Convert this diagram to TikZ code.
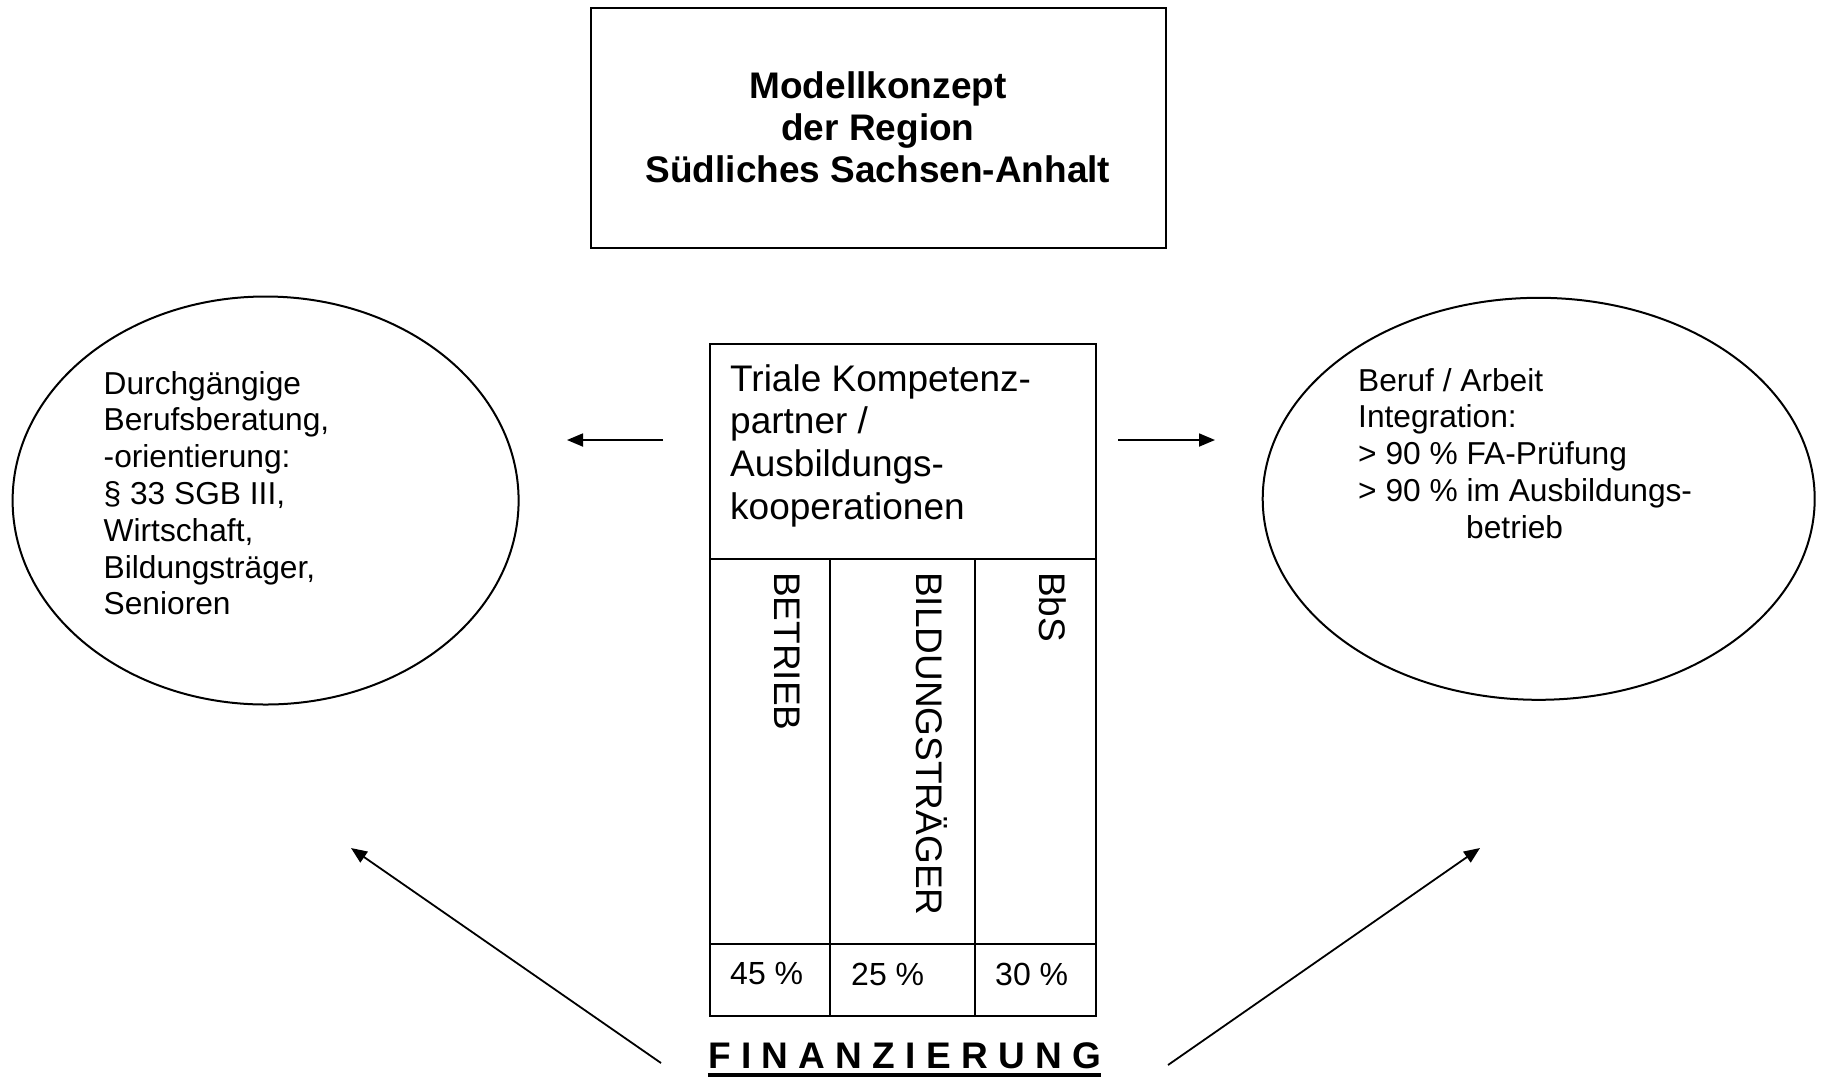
\documentclass[tikz,border=0pt]{standalone}
\usepackage{fontspec}
\setmainfont{Liberation Sans}
\usetikzlibrary{shapes.geometric,arrows.meta}
\tikzset{
  boxline/.style={draw=black,line width=2pt},
  arr/.style={line width=1.8pt,-{Triangle[length=16pt,width=13pt]}},
  big/.style={font={\fontsize{37}{42.7}\selectfont},inner sep=0pt},
  ovtext/.style={font={\fontsize{31.7}{36.8}\selectfont},inner sep=0pt,align=left,anchor=north west},
  vert/.style={font={\fontsize{37}{42.7}\selectfont},inner sep=0pt,rotate=-90,anchor=west},
  pct/.style={font={\fontsize{32}{37}\selectfont},inner sep=0pt,anchor=west}
}
\begin{document}
\begin{tikzpicture}[x=1pt,y=-1pt]
\useasboundingbox (0,0) rectangle (1823,1080);
\fill[white] (0,0) rectangle (1823,1080);

% title box
\draw[boxline] (591,8) rectangle (1166,248);
\node[big,font={\fontsize{37}{41.9}\selectfont\bfseries},align=center] (title) at (878,127)
  {Modellkonzept\\der Region\\Südliches Sachsen-Anhalt};

% ellipses
\node[ellipse,boxline,minimum width=506pt,minimum height=408pt,inner sep=0pt] (lell) at (265.6,500.5) {};
\node[ellipse,boxline,minimum width=552pt,minimum height=402pt,inner sep=0pt] (rell) at (1538.7,498.8) {};
\node[ovtext] (ltext) at (103.5,371)
  {Durchgängige\\Berufsberatung,\\-orientierung:\\§ 33 SGB III,\\Wirtschaft,\\Bildungsträger,\\Senioren};
\node[ovtext] (rtext) at (1358,368)
  {Beruf / Arbeit\\Integration:\\> 90 \% FA-Prüfung\\> 90 \% im Ausbildungs-\\\hspace*{108pt}betrieb};

% central table
\draw[boxline] (710,344) rectangle (1096,1016);
\draw[boxline] (710,559) -- (1096,559);
\draw[boxline] (710,944) -- (1096,944);
\draw[boxline] (830,559) -- (830,1016);
\draw[boxline] (975,559) -- (975,1016);
\node[big,align=left,anchor=north west] (head) at (730,364)
  {Triale Kompetenz-\\partner /\\Ausbildungs-\\kooperationen};
\node[vert] (betr) at (787.5,572) {BETRIEB};
\node[vert] (bild) at (932,572) {BILDUNGSTRÄGER};
\node[vert] (bbs) at (1052.5,572) {BbS};
\node[pct] (p1) at (730,974) {45 \%};
\node[pct] (p2) at (851,974) {25 \%};
\node[pct] (p3) at (995,974) {30 \%};

% Finanzierung
\node[font={\fontsize{37}{42}\selectfont\bfseries},inner sep=0pt,anchor=base] (fin) at (904.5,1068)
  {F I N A N Z I E R U N G};
\draw[line width=4pt] ([yshift=-7pt]fin.base west) -- ([yshift=-7pt]fin.base east);

% arrows
\coordinate (la1) at (663,440);
\coordinate (la2) at (567,440);
\coordinate (ra1) at (1118,440);
\coordinate (ra2) at (1215,440);
\coordinate (dl1) at (661,1063);
\coordinate (dl2) at (351,848);
\coordinate (dr1) at (1168,1065);
\coordinate (dr2) at (1480,848);
\draw[arr] (la1) -- (la2);
\draw[arr] (ra1) -- (ra2);
\draw[arr] (dl1) -- (dl2);
\draw[arr] (dr1) -- (dr2);
\end{tikzpicture}
\end{document}
